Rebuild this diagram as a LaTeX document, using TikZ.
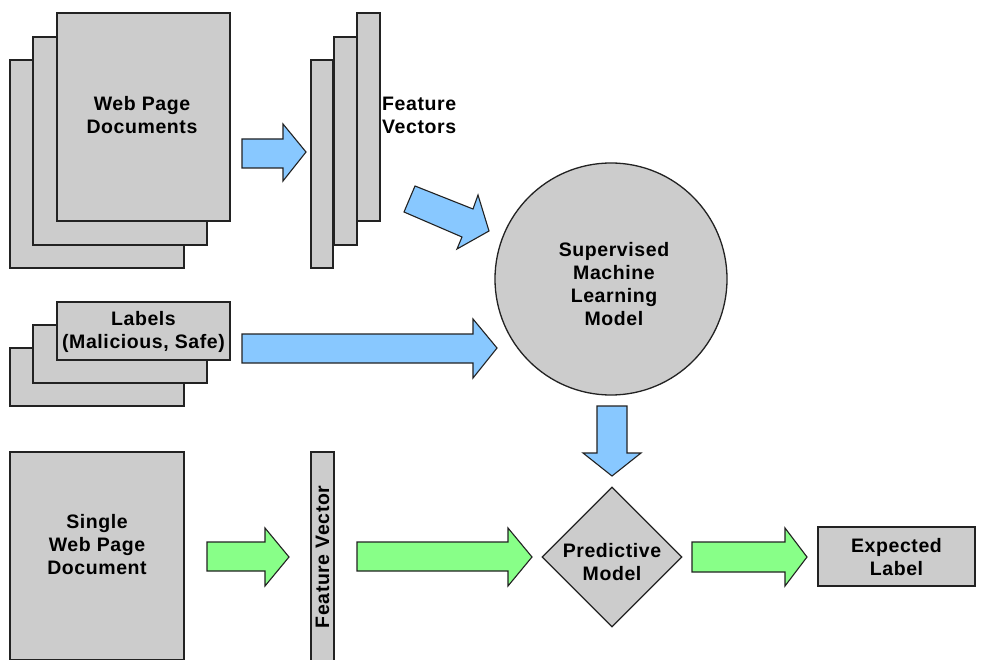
\documentclass[tikz,border=0pt]{standalone}
\usepackage{fontspec}
\setmainfont{Liberation Sans}[LetterSpace=3]
\usetikzlibrary{shapes.geometric}
\definecolor{boxgray}{HTML}{CCCCCC}
\definecolor{edgegray}{HTML}{222222}
\definecolor{arrowblue}{HTML}{88C8FF}
\definecolor{arrowgreen}{HTML}{88FF88}
\begin{document}
\begin{tikzpicture}[x=1pt,y=-1pt,
  every node/.style={font=\fontsize{19.5}{23}\selectfont\bfseries, text=black},
  box/.style={draw=edgegray, fill=boxgray, line width=1.3pt, inner sep=0pt, minimum width=#1},
  bluearr/.style={draw=edgegray, fill=arrowblue, line width=1.1pt, line join=miter},
  greenarr/.style={draw=edgegray, fill=arrowgreen, line width=1.1pt, line join=miter},
  txt/.style={align=center, inner sep=0pt}]
\useasboundingbox (0,0) rectangle (985,660);
\fill[white] (0,0) rectangle (985,660);
% Web page documents stack
\draw[box] (10,60) rectangle (184,268);
\draw[box] (33,37) rectangle (207,245);
\node[box, minimum width=173pt, minimum height=208pt, align=center] (docs) at (143.5,117) {};
\node[txt] (docstxt) at (142,115) {Web Page\\Documents};
% Feature vectors stack
\draw[box] (311,60) rectangle (333,268);
\draw[box] (334,37) rectangle (357,245);
\node[box, minimum width=23pt, minimum height=208pt] (fvs) at (368.5,117) {};
\node[txt, anchor=west, align=left] (fvstxt) at (382,115) {Feature\\Vectors};
% Arrow docs -> vectors
\draw[bluearr] (242,139) -- (283,139) -- (283,124) -- (306,152) -- (283,181) -- (283,168) -- (242,168) -- cycle;
% Diagonal arrow
\draw[bluearr] (415,186) -- (473,209) -- (478,195) -- (489,231) -- (457,249) -- (462,237) -- (404,212) -- cycle;
% Circle
\node[circle, draw=edgegray, fill=boxgray, line width=1.3pt, minimum size=232pt, inner sep=0pt] (sml) at (611,279) {};
\node[txt] (smltxt) at (614,284.5) {Supervised\\Machine\\Learning\\Model};
% Labels stack
\draw[box] (10,348) rectangle (184,406);
\draw[box] (33,325) rectangle (207,383);
\node[box, minimum width=173pt, minimum height=58pt] (labels) at (143.5,331) {};
\node[txt] (labelstxt) at (143.5,332) {Labels\\(Malicious, Safe)};
% Long blue arrow
\draw[bluearr] (242,334) -- (473,334) -- (473,319) -- (497,348) -- (473,378) -- (473,363) -- (242,363) -- cycle;
% Down arrow
\draw[bluearr] (597,406) -- (627,406) -- (627,453) -- (641,453) -- (612,476) -- (583,453) -- (597,453) -- cycle;
% Diamond
\node[diamond, draw=edgegray, fill=boxgray, line width=1.3pt, minimum width=140pt, minimum height=140pt, inner sep=0pt] (pred) at (612,557) {};
\node[txt] (predtxt) at (612,562) {Predictive\\Model};
% Single doc
\node[box, minimum width=174pt, minimum height=208pt] (single) at (97,556) {};
\node[txt] (singletxt) at (97,545) {Single\\Web Page\\Document};
% Feature vector bar
\node[box, minimum width=23pt, minimum height=210pt] (fv) at (322.5,557) {};
\node[txt, rotate=90] (fvtxt) at (322.5,557) {Feature Vector};
% Expected label
\node[box, minimum width=157pt, minimum height=59pt] (exp) at (896.5,556.5) {};
\node[txt] (exptxt) at (896.5,557) {Expected\\Label};
% Green arrows
\draw[greenarr] (207,542) -- (265,542) -- (265,528) -- (289,557) -- (265,586) -- (265,571) -- (207,571) -- cycle;
\draw[greenarr] (357,542) -- (508,542) -- (508,528) -- (532,557) -- (508,586) -- (508,571) -- (357,571) -- cycle;
\draw[greenarr] (692,542) -- (785,542) -- (785,528) -- (807,557) -- (785,586) -- (785,572) -- (692,572) -- cycle;
\end{tikzpicture}
\end{document}
